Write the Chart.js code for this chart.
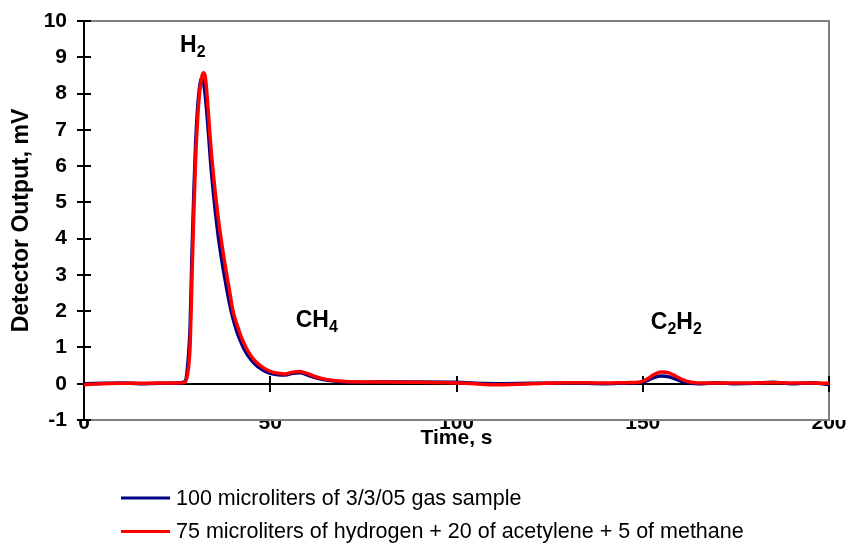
<!DOCTYPE html>
<html>
<head>
<meta charset="utf-8">
<script src="https://cdn.jsdelivr.net/npm/chart.js@4.4.1/dist/chart.umd.min.js"></script>
<style>
  html, body { margin: 0; padding: 0; background: #fff; }
</style>
</head>
<body>
<canvas id="chromChart" width="851" height="544"></canvas>
<script>
// Chromatogram readings (time in s, detector output in mV)
const timeS = [0, 5, 10, 15, 20, 25, 27, 28, 28.5, 29, 29.5, 30, 30.5, 31, 31.5, 32, 32.5, 33, 33.5, 34,
    35, 36, 37, 38, 39, 40, 41, 42, 43, 44, 46, 48, 50, 52, 54, 56, 58, 60, 62, 65,
    70, 75, 80, 90, 100, 105, 110, 120, 130, 140, 146, 149, 151, 153, 155, 157, 159, 161, 163, 165,
    170, 175, 180, 185, 190, 195, 200];
const sampleMv = [0.0, 0.01, 0.02, 0.0, 0.01, 0.02, 0.05, 0.7, 1.6, 3.6, 5.3, 6.7, 7.6, 8.15, 8.4, 8.35, 8.0, 7.45, 6.8, 6.1,
    5.0, 4.1, 3.4, 2.8, 2.25, 1.8, 1.45, 1.18, 0.95, 0.78, 0.53, 0.38, 0.29, 0.25, 0.24, 0.29, 0.3, 0.24, 0.17, 0.1,
    0.05, 0.04, 0.05, 0.05, 0.04, 0.01, 0.0, 0.01, 0.02, 0.0, 0.02, 0.03, 0.08, 0.17, 0.21, 0.19, 0.12, 0.05, 0.01, 0.0,
    0.03, 0.0, 0.01, 0.04, 0.0, 0.03, -0.02];
const mixMv = [-0.02, 0.0, 0.01, 0.01, 0.02, 0.02, 0.03, 0.4, 1.1, 3.0, 4.8, 6.3, 7.3, 8.0, 8.4, 8.57, 8.5, 8.0, 7.3, 6.6,
    5.5, 4.6, 3.85, 3.2, 2.6, 2.0, 1.65, 1.35, 1.1, 0.9, 0.62, 0.45, 0.34, 0.29, 0.27, 0.32, 0.34, 0.28, 0.2, 0.12,
    0.06, 0.05, 0.05, 0.04, 0.02, 0.0, -0.03, 0.0, 0.03, 0.02, 0.03, 0.04, 0.12, 0.25, 0.32, 0.3, 0.2, 0.1, 0.04, 0.02,
    0.02, 0.02, 0.02, 0.03, 0.02, 0.02, 0.01];

const seriesNames = ['100 microliters of 3/3/05 gas sample',
    '75 microliters of hydrogen + 20 of acetylene + 5 of methane'];
const xTicks = [0, 50, 100, 150, 200];
const yTicks = [-1, 0, 1, 2, 3, 4, 5, 6, 7, 8, 9, 10];

// peak names, "_" marks a subscript digit
const peakNames = ['H_2', 'CH_4', 'C_2H_2'];
const peakTimes = [29.2, 62.5, 159];
const peakLabelMv = [9.15, 1.57, 1.52];

const FONT = 'Liberation Sans, Arial, sans-serif';

function toPoints(ys) {
    return timeS.map((t, i) => ({ x: t, y: ys[i] }));
}

function drawSubText(ctx, text, cx, baseY, size) {
    // split into normal / subscript runs
    const runs = [];
    for (let i = 0; i < text.length; i++) {
        if (text[i] === '_') { runs.push({ s: text[i + 1], sub: true }); i++; }
        else runs.push({ s: text[i], sub: false });
    }
    const big = 'bold ' + size + 'px ' + FONT;
    const small = 'bold ' + Math.round(size * 0.68) + 'px ' + FONT;
    let w = 0;
    runs.forEach(r => { ctx.font = r.sub ? small : big; r.w = ctx.measureText(r.s).width; w += r.w; });
    let x = cx - w / 2;
    ctx.textAlign = 'left';
    ctx.textBaseline = 'alphabetic';
    runs.forEach(r => {
        ctx.font = r.sub ? small : big;
        ctx.fillText(r.s, x, r.sub ? baseY + size * 0.22 : baseY);
        x += r.w;
    });
}

const framePlugin = {
    id: 'frame',
    beforeDatasetsDraw(chart) {
        const { ctx, chartArea: a, scales: { x, y } } = chart;
        ctx.save();
        // grey border top / right / bottom
        ctx.strokeStyle = '#808080';
        ctx.lineWidth = 2;
        ctx.beginPath();
        ctx.moveTo(a.left, a.top);
        ctx.lineTo(a.right, a.top);
        ctx.lineTo(a.right, a.bottom);
        ctx.lineTo(a.left, a.bottom);
        ctx.stroke();
        // value axis (black) with cross ticks
        ctx.strokeStyle = '#000';
        ctx.beginPath();
        ctx.moveTo(a.left, a.top);
        ctx.lineTo(a.left, a.bottom);
        yTicks.forEach(v => {
            const py = Math.round(y.getPixelForValue(v));
            ctx.moveTo(a.left - 7, py);
            ctx.lineTo(a.left + 7, py);
        });
        // time axis crosses at 0 mV
        const y0 = Math.round(y.getPixelForValue(0));
        ctx.moveTo(a.left, y0);
        ctx.lineTo(a.right, y0);
        xTicks.forEach(v => {
            const px = Math.round(x.getPixelForValue(v));
            ctx.moveTo(px, y0 - 8);
            ctx.lineTo(px, y0 + 8);
        });
        ctx.stroke();
        ctx.restore();
    },
    afterDatasetsDraw(chart) {
        const { ctx, scales: { x, y } } = chart;
        ctx.save();
        ctx.fillStyle = '#000';
        peakNames.forEach((name, i) => {
            drawSubText(ctx, name, x.getPixelForValue(peakTimes[i]), y.getPixelForValue(peakLabelMv[i]), 23);
        });
        ctx.restore();
    },
    afterDraw(chart) {
        const { ctx, chartArea: a } = chart;
        ctx.save();
        ctx.fillStyle = '#000';
        // x axis title
        ctx.font = 'bold 21px ' + FONT;
        ctx.textAlign = 'center';
        ctx.textBaseline = 'middle';
        ctx.fillText('Time, s', (a.left + a.right) / 2, a.bottom + 18);
        // legend
        ctx.font = '21.5px ' + FONT;
        ctx.textAlign = 'left';
        const sets = chart.data.datasets;
        seriesNames.forEach((name, i) => {
            const ly = 498 + i * 33.5;
            ctx.strokeStyle = sets[i].borderColor;
            ctx.lineWidth = 3;
            ctx.beginPath();
            ctx.moveTo(121, ly);
            ctx.lineTo(170, ly);
            ctx.stroke();
            ctx.fillText(name, 176, ly + 1);
        });
        ctx.restore();
    }
};

new Chart(document.getElementById('chromChart'), {
    type: 'line',
    data: {
        datasets: [
            {
                label: seriesNames[0],
                data: toPoints(sampleMv),
                borderColor: '#000080',
                borderWidth: 3.5,
                pointRadius: 0,
                cubicInterpolationMode: 'monotone',
                order: 1
            },
            {
                label: seriesNames[1],
                data: toPoints(mixMv),
                borderColor: '#ff0000',
                borderWidth: 3.5,
                pointRadius: 0,
                cubicInterpolationMode: 'monotone',
                order: 0
            }
        ]
    },
    plugins: [framePlugin],
    options: {
        responsive: false,
        animation: false,
        layout: { padding: { top: 21, right: 22, left: 0, bottom: 0 } },
        plugins: {
            legend: { display: false },
            tooltip: { enabled: false }
        },
        scales: {
            x: {
                type: 'linear',
                min: 0,
                max: 200,
                afterBuildTicks: s => { s.ticks = xTicks.map(v => ({ value: v })); },
                afterFit: s => { s.height = 124; s.paddingLeft = 0; s.paddingRight = 0; },
                grid: { display: false, drawTicks: false },
                border: { display: false },
                ticks: { padding: -9, color: '#000', maxRotation: 0, font: { family: FONT, size: 21, weight: 'bold' } }
            },
            y: {
                min: -1,
                max: 10,
                afterBuildTicks: s => { s.ticks = yTicks.map(v => ({ value: v })); },
                afterFit: s => { s.width = 84; s.paddingTop = 0; s.paddingBottom = 0; },
                grid: { display: false, drawTicks: false },
                border: { display: false },
                ticks: { padding: 17, color: '#000', font: { family: FONT, size: 21, weight: 'bold' } },
                title: {
                    display: true,
                    text: 'Detector Output, mV',
                    color: '#000',
                    font: { family: FONT, size: 23, weight: 'bold' },
                    padding: { top: 8, bottom: 0 }
                }
            }
        }
    }
});
</script>
</body>
</html>
